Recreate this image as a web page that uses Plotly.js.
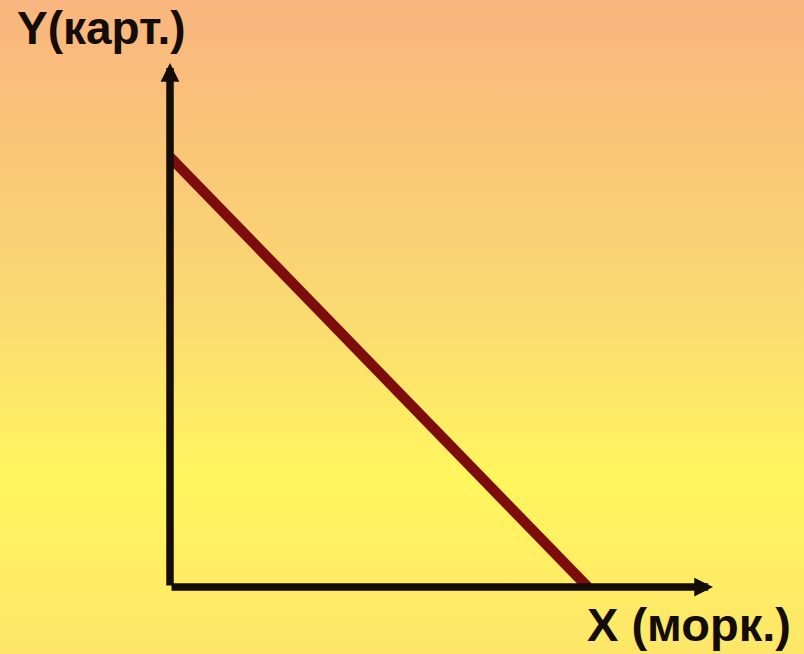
<!DOCTYPE html>
<html>
<head>
<meta charset="utf-8">
<script src="https://cdn.plot.ly/plotly-3.0.1.min.js"></script>
<style>
  html, body { margin: 0; padding: 0; }
  body {
    width: 804px; height: 654px; overflow: hidden;
    background: linear-gradient(to bottom, #f9b57e 0%, #f9c877 25%, #fbdc70 50%, #fff65e 73%, #fde669 100%);
  }
  #chart { width: 804px; height: 654px; }
</style>
</head>
<body>
<div id="chart"></div>
<script>
// production possibilities: potatoes (Y) vs carrots (X)
const carrots = [0, 8];
const potatoes = [8, 0];
const axisMax = { x: 10.4, y: 9.75 };
const xLabel = 'X (морк.)';
const yLabel = 'Y(карт.)';

const ink = '#140c06';

const trace = {
  x: carrots,
  y: potatoes,
  mode: 'lines',
  line: { color: '#7d0c0c', width: 10.5 },
  hoverinfo: 'skip',
  cliponaxis: false
};

const axisArrow = (x, y) => ({
  x: x, y: y, xref: 'x', yref: 'y',
  ax: 0, ay: 0, axref: 'x', ayref: 'y',
  showarrow: true, arrowhead: 2, arrowsize: 0.5,
  arrowwidth: 7.5, arrowcolor: ink, text: ''
});

const layout = {
  width: 804,
  height: 654,
  margin: { l: 170, r: 91, t: 63, b: 67 },
  paper_bgcolor: 'rgba(0,0,0,0)',
  plot_bgcolor: 'rgba(0,0,0,0)',
  showlegend: false,
  xaxis: { range: [0, axisMax.x], visible: false, fixedrange: true },
  yaxis: { range: [0, axisMax.y], visible: false, fixedrange: true },
  annotations: [
    axisArrow(axisMax.x, 0),
    axisArrow(0, axisMax.y),
    {
      text: '<b>' + yLabel + '</b>', xref: 'paper', yref: 'paper',
      x: -0.285, y: 1.066, xanchor: 'left', yanchor: 'middle', showarrow: false,
      font: { family: 'Liberation Sans, Arial, sans-serif', size: 46, color: ink }
    },
    {
      text: '<b>' + xLabel + '</b>', xref: 'paper', yref: 'paper',
      x: 0.765, y: -0.072, xanchor: 'left', yanchor: 'middle', showarrow: false,
      font: { family: 'Liberation Sans, Arial, sans-serif', size: 47, color: ink }
    }
  ]
};

Plotly.newPlot('chart', [trace], layout, { displayModeBar: false, staticPlot: true });
</script>
</body>
</html>
